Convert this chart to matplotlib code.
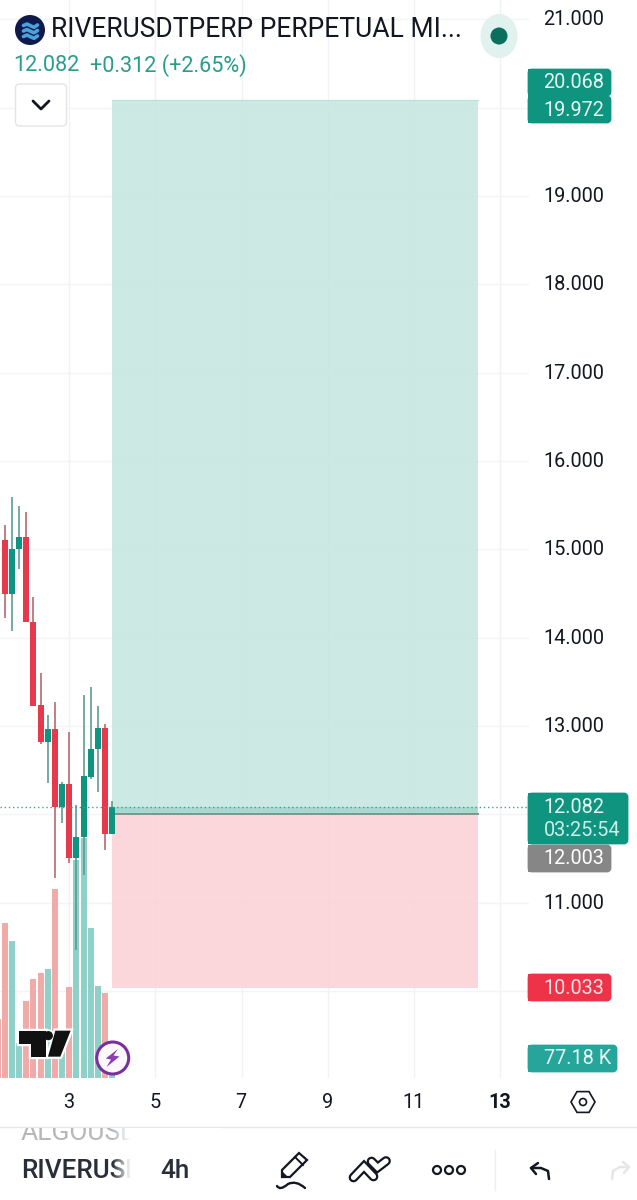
import numpy as np
import matplotlib
matplotlib.use("Agg")
import matplotlib.pyplot as plt
from matplotlib.patches import FancyBboxPatch, Rectangle, Circle, Polygon, RegularPolygon, Ellipse, PathPatch
from matplotlib.path import Path

plt.rcParams['font.family'] = ['Roboto', 'DejaVu Sans']

# ---------- data ----------
candle_hours = [-36, -32, -28, -24, -20, -16, -12, -8, -4, 0, 4, 8, 12, 16, 20, 24]
opens  = [15.105, 14.490, 15.003, 15.139, 14.181, 13.234, 12.823, 12.962, 12.087, 12.347, 11.502, 11.744, 12.426, 12.740, 12.981, 11.774]
closes = [14.490, 15.003, 15.139, 14.181, 13.226, 12.823, 12.962, 12.087, 12.347, 11.502, 11.744, 12.430, 12.740, 12.981, 11.774, 12.082]
highs  = [15.275, 15.588, 15.490, 15.418, 14.456, 13.604, 13.121, 13.272, 12.366, 12.932, 12.106, 13.351, 13.441, 13.223, 13.019, 12.151]
lows   = [14.219, 14.079, 14.781, 14.181, 13.226, 12.796, 12.359, 11.276, 11.898, 11.446, 10.465, 11.314, 12.396, 12.257, 11.596, 11.774]

volume_hours = [-40, -36, -32, -28, -24, -20, -16, -12, -8, -4, 0, 4, 8, 12, 16, 20, 24]
volumes_k = [228, 598, 529, 135, 298, 382, 405, 422, 731, 121, 352, 841, 926, 579, 355, 328, 77.18]
volume_up = [False, False, True, True, False, False, False, True, False, True, False, True, True, True, True, False, True]

price_ticks = [21, 20, 19, 18, 17, 16, 15, 14, 13, 12, 11, 10]
price_labels_shown = [21, 19, 18, 17, 16, 15, 14, 13, 11]
day_ticks = [3, 5, 7, 9, 11, 13]

pos_left, pos_right = 4.0, 12.5
target_price, entry_price, stop_price = 20.085, 12.003, 10.033
last_price = 12.082

GREEN = '#0f9480'
RED = '#e63a4c'

W, H = 637, 1200
fig = plt.figure(figsize=(W / 100, H / 100), dpi=100, facecolor='white')

# ---------- chart axes (pixels 0..529 x 0..1078) ----------
rect = [0, 1 - 1078 / H, 529 / W, 1078 / H]
PX_DAY = 43.07
PX_UNIT = 88.35
xlim = (3 - 69.3 / PX_DAY, 3 + (529 - 69.3) / PX_DAY)
ylim = (13 - (1078 - 726) / PX_UNIT, 13 + 726 / PX_UNIT)

gax = fig.add_axes(rect, zorder=1)   # grid
vax = fig.add_axes(rect, zorder=2)   # volume
ax = fig.add_axes(rect, zorder=3)    # price
for a_ in (gax, ax):
    a_.set_xlim(*xlim)
    a_.set_ylim(*ylim)
vax.set_xlim(*xlim)
vax.set_ylim(0, 1078 * 77.18 / 20)
for a_ in (gax, vax, ax):
    a_.axis('off')
    a_.patch.set_visible(False)

for p in price_ticks:
    gax.axhline(p, color='#f2f4f7', lw=1)
for d in day_ticks:
    gax.axvline(d, color='#f0f2f6', lw=1)

vdays = 3 + np.array(volume_hours) / 24
vax.bar(vdays, volumes_k, width=0.14,
        color=['#8fd0c8' if u else '#f0aaa8' for u in volume_up])

# position tool
ax.add_patch(Rectangle((pos_left, entry_price), pos_right - pos_left, target_price - entry_price,
                       fc='#c4e7df', ec='none', zorder=1.5, alpha=0.85))
ax.add_patch(Rectangle((pos_left, stop_price), pos_right - pos_left, entry_price - stop_price,
                       fc='#fbd0d5', ec='none', zorder=1.5, alpha=0.85))
ax.add_patch(Rectangle((pos_left, entry_price), pos_right - pos_left, last_price - entry_price,
                       fc='#a4dacf', ec='none', zorder=1.6))
ax.plot([pos_left, pos_right], [entry_price, entry_price], color='#7d958f', lw=1.4, zorder=1.8)
ax.plot([pos_left, pos_right], [target_price, target_price], color='#bfe3dc', lw=1, zorder=1.8)

# candles
cdays = 3 + np.array(candle_hours) / 24
for x, o, c, h, l in zip(cdays, opens, closes, highs, lows):
    col = GREEN if c >= o else RED
    wick = '#5f9c90' if c >= o else '#b86a72'
    ax.plot([x, x], [l, h], color=wick, lw=1.2, zorder=3, solid_capstyle='butt')
    ax.bar(x, abs(c - o), bottom=min(o, c), width=0.14, color=col, zorder=4)

ax.axhline(last_price, color='#3f9f90', lw=1, ls=(0, (1, 2)), zorder=5)

# ---------- overlay in screen pixels for the app chrome ----------
ui = fig.add_axes([0, 0, 1, 1], zorder=10)
ui.set_xlim(0, W)
ui.set_ylim(H, 0)
ui.axis('off')
ui.patch.set_visible(False)


def tag(x0, x1, y0, y1, color, lines, text_x=543.5):
    ui.add_patch(FancyBboxPatch((x0, y0 + 2), x1 - x0 - 2, y1 - y0 - 4, boxstyle='round,pad=0,rounding_size=3',
                                mutation_aspect=1, fc=color, ec=color, lw=2, zorder=3))
    ui.add_patch(Rectangle((x0 - 1, y0 + 1), 6, y1 - y0 - 2, fc=color, ec='none', zorder=3))
    for (ty, s, c) in lines:
        ui.text(text_x, ty, s, color=c, fontsize=14.3, va='center', ha='left', zorder=4)


# price axis labels
for p in price_labels_shown:
    y = 726 + (13 - p) * PX_UNIT
    ui.text(543.5, y + 0.5, f'{p:.3f}', fontsize=14.3, color='#131722', va='center', ha='left', zorder=2)

tag(529, 612, 68, 97, '#0f9480', [(82.5, '20.068', '#e6f5f2')])
tag(529, 612, 95, 124, '#0f9480', [(110.5, '19.972', '#e6f5f2')])
tag(529, 612, 844, 873, '#868686', [(858.5, '12.003', '#ffffff')])
tag(529, 629, 792, 845, '#0f9480', [(807.5, '12.082', '#e6f5f2'), (830.5, '03:25:54', '#c9f0e8')])
tag(529, 612, 973, 1002, '#ee3348', [(988.5, '10.033', '#fbe3e5')])
tag(529, 618, 1044, 1073, '#26a69a', [(1058.5, '77.18 K', '#e6f7f5')])

# time axis labels
for d in day_ticks:
    x = 69.3 + (d - 3) * PX_DAY
    ui.text(x - 0.5, 1102.5, str(d), fontsize=14.3, fontweight='bold' if d == 13 else 'normal',
            color='#131722', ha='center', va='center')

# settings hexagon
ui.add_patch(RegularPolygon((583, 1102), 6, radius=12, orientation=np.pi / 2, fc='white', ec='#131722', lw=1.2))
ui.add_patch(Circle((583, 1102), 3.5, fc='white', ec='#131722', lw=1.2))

# separator lines
ui.plot([0, W], [1127, 1127], color='#e6e8ec', lw=1)
ui.plot([495, 495], [1150, 1190], color='#eceef1', lw=1)

# header
ui.add_patch(Circle((30, 30), 15, fc='#101a4a', ec='none'))
for off in (25.5, 31, 36.5):
    ui.plot([23.5, 27, 31, 34, 37.5], [off, off - 1.5, off + 0.5, off + 1.8, off - 0.5],
            color='#4aa3df', lw=2.6, solid_capstyle='round')
ui.text(51, 29.5, 'RIVERUSDTPERP PERPETUAL MI...', fontsize=19.1, color='#131722', va='center', ha='left')
ui.text(13.5, 65.5, '12.082', fontsize=15.6, color='#2a9d8a', va='center', ha='left')
ui.text(89.5, 65.5, '+0.312 (+2.65%)', fontsize=15.6, color='#2a9d8a', va='center', ha='left')

ui.add_patch(Ellipse((499, 36), 37, 44, fc='#e0f1ee', ec='none'))
ui.add_patch(Circle((499, 36), 8.5, fc='#0c6f5e', ec='none'))

ui.add_patch(FancyBboxPatch((15.5, 84), 51, 42, boxstyle='round,pad=0,rounding_size=4', fc='white', ec='#e2e4e9', lw=1))
ui.plot([33, 41, 49], [101, 109, 101], color='#131722', lw=2, solid_capstyle='round', solid_joinstyle='round')


# TradingView logo
def zp(pts):
    return [(px / 3, 880 + py / 3) for px, py in pts]


t_pts = zp([(58, 452), (138, 452), (138, 530), (92, 530), (92, 491), (58, 491)])
s_pts = zp([(166, 452), (212, 452), (181, 530), (144, 530)])
for pts in (t_pts, s_pts):
    ui.add_patch(Polygon(pts, closed=True, fc='white', ec='white', lw=3.2, zorder=5))
ui.add_patch(Circle((145 / 3, 880 + 467 / 3), 6.2, fc='white', ec='none', zorder=5))
for pts in (t_pts, s_pts):
    ui.add_patch(Polygon(pts, closed=True, fc='#111111', ec='none', zorder=5.1))
ui.add_patch(Circle((145 / 3, 880 + 467 / 3), 4.6, fc='#111111', ec='none', zorder=5.1))

# lightning badge
ui.add_patch(Circle((112.7, 1058), 16, fc='#fbf9fc', ec='#7b2f9e', lw=2.2, zorder=5))
ui.add_patch(Polygon([(118, 1049), (105.7, 1058.5), (111, 1059.5), (106.5, 1067), (119.5, 1056.5), (113.5, 1055.5)], closed=True,
                     fc='#8a3fae', ec='none', zorder=6))

# bottom bar
clip = Rectangle((0, 1128), W, 40, transform=ui.transData)
a = ui.text(21, 1133, 'ALGOUSDT', fontsize=19, color='#b5b7bb', va='center', ha='left', zorder=2)
a.set_clip_path(clip)
a.set_clip_on(True)
ui.text(21, 1171, 'RIVERUSDT', fontsize=18.8, color='#2a2e39', va='center', ha='left', fontweight='medium', zorder=2)
ui.add_patch(Rectangle((131, 1128), 90, 60, fc='white', ec='none', zorder=3))
grad = np.ones((1, 30, 4))
grad[0, :, 3] = np.linspace(0, 1, 30)
ui.imshow(grad, extent=(112, 131, 1190, 1128), zorder=2.5, aspect='auto', interpolation='bilinear')
ui.set_xlim(0, W)
ui.set_ylim(H, 0)
ui.text(160, 1171, '4h', fontsize=18.8, color='#2a2e39', va='center', ha='left', fontweight='medium', zorder=4)

ICON = '#131722'
# pencil
ui.add_patch(Polygon([(282, 1177), (282, 1170), (299, 1153), (307, 1160), (290, 1177)], closed=True, fc='white', ec=ICON, lw=1.6, zorder=4))
ui.plot([295, 303], [1157, 1165], color=ICON, lw=1.4, zorder=4)
ui.add_patch(Polygon([(282, 1177), (282, 1172), (287, 1177)], closed=True, fc=ICON, ec=ICON, lw=1, zorder=4))
ui.add_patch(PathPatch(Path([(277, 1186), (280, 1191), (288, 1184), (296, 1180), (305, 1188)],
                            [Path.MOVETO, Path.CURVE3, Path.CURVE3, Path.CURVE3, Path.CURVE3]),
                       fc='none', ec=ICON, lw=1.7, zorder=4, capstyle='round'))
# zigzag icon: two outlined chevrons
for pts in ([(353.5, 1177.5), (364, 1166.5), (373.5, 1176.5)], [(371.5, 1161.5), (377.5, 1167.5), (386, 1161)]):
    ui.plot(*zip(*pts), color=ICON, lw=7, solid_capstyle='round', solid_joinstyle='miter', zorder=4)
    ui.plot(*zip(*pts), color='white', lw=3.8, solid_capstyle='round', solid_joinstyle='miter', zorder=4.1)
# dots
for cx in (437, 449, 461):
    ui.add_patch(Circle((cx, 1170), 4, fc='white', ec=ICON, lw=1.6, zorder=4))
# undo / redo
ui.plot([549, 548, 541, 531], [1179, 1171, 1168, 1168], color=ICON, lw=1.8, zorder=4, solid_capstyle='round')
ui.plot([538, 531, 536], [1163, 1168, 1174], color=ICON, lw=1.8, zorder=4, solid_capstyle='round')
ui.plot([612, 613, 620, 629], [1179, 1171, 1167, 1167], color='#e4e6ea', lw=1.8, zorder=4, solid_capstyle='round')
ui.plot([623, 629, 624], [1162, 1167, 1173], color='#e4e6ea', lw=1.8, zorder=4, solid_capstyle='round')

fig.savefig('out.png', dpi=100, facecolor='white')
